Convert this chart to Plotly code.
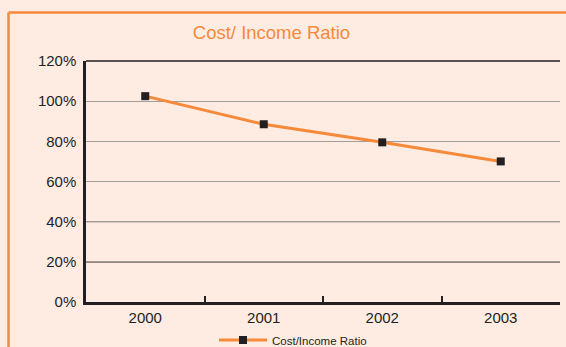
import plotly.graph_objects as go

# Cost/Income ratio by year (percent)
years = ["2000", "2001", "2002", "2003"]
ratio = [102.5, 88.5, 79.5, 70.0]
y_ticks = [0, 20, 40, 60, 80, 100, 120]
y_labels = ["0%", "20%", "40%", "60%", "80%", "100%", "120%"]
# lower gridlines are printed darker than the upper ones
dark_grid_levels = [20, 40]
dark_grid_colors = ["#2B2627", "#5E5A59"]

W, H = 566, 347
ML, MR, MT, MB = 86, 6, 61, 45
PW, PH = W - ML - MR, H - MT - MB

BG = "#FEECE3"
ORANGE = "#F58A3A"
DARK = "#231F20"
GRID = "#A09C9A"
FONT = "Liberation Sans, Arial, sans-serif"


def px_x(px):
    return (px - ML) / PW


def px_y(py):
    return (H - MB - py) / PH


fig = go.Figure()
fig.add_trace(go.Scatter(
    x=years, y=ratio, mode="lines+markers", name="Cost/Income Ratio",
    line=dict(color=ORANGE, width=3),
    marker=dict(symbol="square", size=8, color=DARK),
))

fig.update_layout(
    width=W, height=H,
    margin=dict(l=ML, r=MR, t=MT, b=MB, pad=0, autoexpand=False),
    paper_bgcolor=BG, plot_bgcolor=BG,
    font=dict(family=FONT, color=DARK, size=15),
    title=dict(text="Cost/ Income Ratio", font=dict(size=18.5, color=ORANGE, family=FONT),
               x=px_x(271.5), xref="paper", xanchor="center",
               y=1 - 33 / H, yref="container", yanchor="middle"),
    showlegend=True,
    legend=dict(orientation="h", x=px_x(214), xanchor="left",
                y=1 - 340 / H, yref="container", yanchor="middle",
                itemwidth=48,
                bgcolor="rgba(0,0,0,0)", font=dict(size=11.5, family=FONT, color=DARK)),
    xaxis=dict(type="category", range=[-0.5, 3.5], tickson="boundaries",
               ticks="inside", ticklen=6, tickwidth=2, tickcolor=DARK,
               showline=True, linecolor=DARK, linewidth=2.5, showgrid=False,
               tickfont=dict(size=15, color=DARK), fixedrange=True),
    yaxis=dict(range=[0, 120], tickvals=y_ticks, ticktext=y_labels,
               showgrid=True, gridcolor=GRID, gridwidth=1.2, zeroline=False,
               showline=True, linecolor=DARK, linewidth=2.5,
               ticks="outside", ticklen=4, tickcolor="rgba(0,0,0,0)",
               tickfont=dict(size=15, color=DARK), fixedrange=True),
)

for level, color in zip(dark_grid_levels, dark_grid_colors):
    fig.add_shape(type="line", xref="paper", yref="y", x0=0, x1=1, y0=level, y1=level,
                  line=dict(color=color, width=1.2), layer="between")

# dark line along the top of the plot area
fig.add_shape(type="line", xref="paper", yref="paper", x0=0, x1=1, y0=1, y1=1,
              line=dict(color=DARK, width=1.5))
# orange frame around the chart panel
fig.add_shape(type="line", xref="paper", yref="paper",
              x0=px_x(8.5), x1=px_x(570), y0=px_y(12.5), y1=px_y(12.5),
              line=dict(color=ORANGE, width=2.5))
fig.add_shape(type="line", xref="paper", yref="paper",
              x0=px_x(8.5), x1=px_x(8.5), y0=px_y(12.5), y1=px_y(350),
              line=dict(color=ORANGE, width=2.5))

fig.write_html("out.html")
